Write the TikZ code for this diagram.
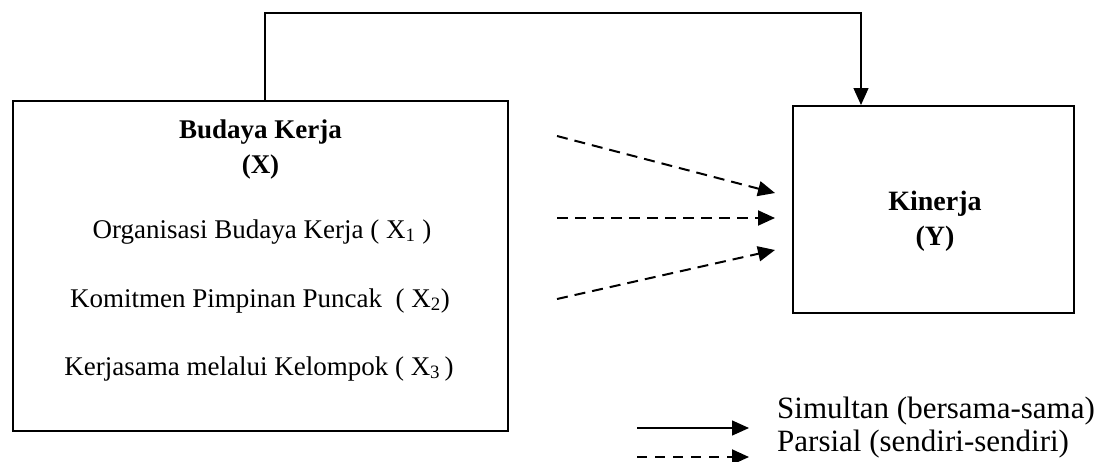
\documentclass[tikz,border=0pt]{standalone}
\usepackage{fontspec}
\setmainfont{Liberation Serif}
\usetikzlibrary{arrows.meta}
\begin{document}
\begin{tikzpicture}[x=1pt,y=-1pt,
  every node/.style={font=\fontsize{27}{32}\selectfont, inner sep=0pt},
  varbox/.style={draw, line width=2pt, rectangle},
  txt/.style={anchor=base},
  legtxt/.style={anchor=base west, font=\fontsize{31}{36}\selectfont},
  simarrow/.style={line width=1.4pt, -{Triangle[length=17pt,width=15pt]}},
  pararrow/.style={line width=2pt, dash pattern=on 11pt off 7pt, -{Triangle[length=17pt,width=15pt]}}
]
\useasboundingbox (0,0) rectangle (1109,461);

% variable boxes
\node[varbox, minimum width=495pt, minimum height=330pt] (bx) at (260.5,265.5) {};
\node[varbox, minimum width=281pt, minimum height=207pt] (by) at (933.5,209.5) {};

% texts of the independent variable
\node[txt] (bxt) at (260.5,138) {\bfseries Budaya Kerja};
\node[txt] (bxs) at (260.5,173) {\bfseries (X)};
\node[txt] (x1) at (262,238) {Organisasi Budaya Kerja ( X\textsubscript{1} )};
\node[txt] (x2) at (260,307) {Komitmen Pimpinan Puncak\ \ ( X\textsubscript{2})};
\node[txt] (x3) at (259,375) {Kerjasama melalui Kelompok ( X\textsubscript{3}\,)};

% texts of the dependent variable
\node[txt, font=\fontsize{28}{33}\selectfont\bfseries] (byt) at (935,210) {Kinerja};
\node[txt, font=\fontsize{28}{33}\selectfont\bfseries] (bys) at (935,245) {(Y)};

% simultaneous path over the top
\coordinate (tl) at (265,13);
\coordinate (tr) at (861,13);
\draw[simarrow] (bx.north -| tl) -- (tl) -- (tr) -- (by.north -| tr);

% partial paths
\coordinate (s1) at (557,136);
\coordinate (s2) at (557,218);
\coordinate (s3) at (557,299);
\coordinate (t1) at (775,193);
\coordinate (t2) at (775,218);
\coordinate (t3) at (775,250);
\draw[pararrow] (s1) -- (t1);
\draw[pararrow] (s2) -- (t2);
\draw[pararrow] (s3) -- (t3);

% legend
\coordinate (l1a) at (637,428);
\coordinate (l1b) at (749,428);
\coordinate (l2a) at (637,457);
\coordinate (l2b) at (749,457);
\draw[simarrow] (l1a) -- (l1b);
\draw[pararrow, dash pattern=on 10pt off 8pt] (l2a) -- (l2b);
\node[legtxt] (lg1) at (777,418) {Simultan (bersama-sama)};
\node[legtxt] (lg2) at (777,451) {Parsial (sendiri-sendiri)};
\end{tikzpicture}
\end{document}
